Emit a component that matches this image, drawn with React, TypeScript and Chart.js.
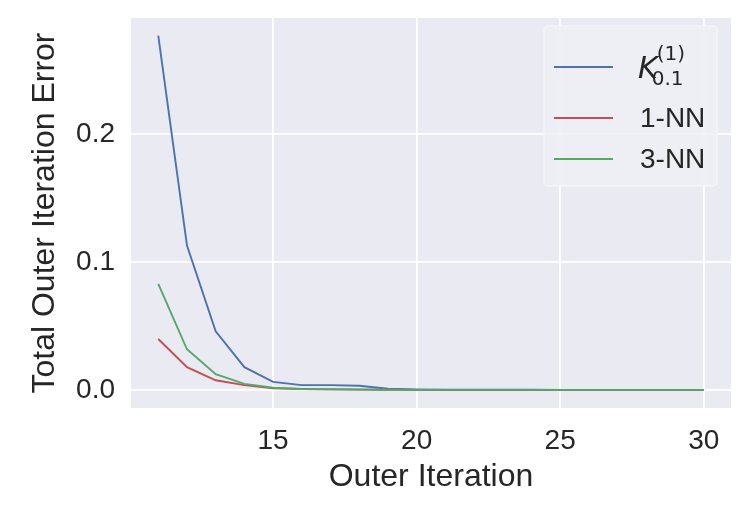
import React, { useEffect, useRef } from "react";
import { Chart, registerables } from "chart.js";

Chart.register(...registerables);

const iterations = [11, 12, 13, 14, 15, 16, 17, 18, 19, 20, 21, 22, 23, 24, 25, 26, 27, 28, 29, 30];
const kValues = [0.2768, 0.113, 0.046, 0.018, 0.0065, 0.004, 0.004, 0.0035, 0.0012, 0.0006, 0.0004, 0.0004, 0.0004, 0.0004, 0.0003, 0.0003, 0.0003, 0.0003, 0.0003, 0.0003];
const nn1Values = [0.040, 0.018, 0.0078, 0.004, 0.0015, 0.001, 0.0007, 0.0005, 0.0004, 0.0003, 0.0003, 0.0003, 0.0003, 0.0003, 0.0003, 0.0003, 0.0003, 0.0003, 0.0003, 0.0003];
const nn3Values = [0.083, 0.032, 0.0125, 0.005, 0.002, 0.001, 0.0008, 0.0006, 0.0004, 0.0003, 0.0003, 0.0003, 0.0003, 0.0003, 0.0003, 0.0003, 0.0003, 0.0003, 0.0003, 0.0003];
const xTicks = [15, 20, 25, 30];
const yTicks = [0.0, 0.1, 0.2];
const seriesNames = ["K", "1-NN", "3-NN"];
const kSub = "0.1";
const kSup = "(1)";
const xTitle = "Outer Iteration";
const yTitle = "Total Outer Iteration Error";

const COLORS = ["#4c72b0", "#c44e52", "#55a868"];
const TEXT = "#262626";
const FONT = "'Liberation Sans', Arial, sans-serif";

const bgPlugin = {
  id: "bgPlugin",
  beforeDraw(chart: any) {
    const { ctx, chartArea } = chart;
    ctx.save();
    ctx.fillStyle = "#eaeaf2";
    ctx.fillRect(chartArea.left, chartArea.top, chartArea.right - chartArea.left, chartArea.bottom - chartArea.top);
    ctx.restore();
  },
};

const legendPlugin = {
  id: "mplLegend",
  afterDraw(chart: any) {
    const { ctx, chartArea } = chart;
    const x0 = chartArea.right - 187;
    const y0 = chartArea.top + 8;
    const w = 173;
    const h = 160;
    ctx.save();
    ctx.beginPath();
    const r = 4;
    ctx.moveTo(x0 + r, y0);
    ctx.arcTo(x0 + w, y0, x0 + w, y0 + h, r);
    ctx.arcTo(x0 + w, y0 + h, x0, y0 + h, r);
    ctx.arcTo(x0, y0 + h, x0, y0, r);
    ctx.arcTo(x0, y0, x0 + w, y0, r);
    ctx.closePath();
    ctx.fillStyle = "rgba(238,239,245,0.9)";
    ctx.fill();
    ctx.strokeStyle = "#f4f4f8";
    ctx.lineWidth = 1.5;
    ctx.stroke();

    const rowY = [y0 + 41, y0 + 92, y0 + 133];
    seriesNames.forEach((name, i) => {
      const y = rowY[i];
      ctx.strokeStyle = COLORS[i];
      ctx.lineWidth = 1.8;
      ctx.beginPath();
      ctx.moveTo(x0 + 10, y);
      ctx.lineTo(x0 + 69, y);
      ctx.stroke();
      ctx.fillStyle = TEXT;
      if (i === 0) {
        ctx.textBaseline = "alphabetic";
        ctx.textAlign = "left";
        ctx.font = "oblique 30px 'DejaVu Sans', sans-serif";
        const kx = x0 + 94;
        ctx.fillText(name, kx, y + 11);
        const kw = ctx.measureText(name).width;
        ctx.font = "20px 'DejaVu Sans', sans-serif";
        ctx.fillText(kSub, kx + kw - 6, y + 18);
        ctx.fillText(kSup, kx + kw - 1, y - 7);
      } else {
        ctx.textBaseline = "middle";
        ctx.textAlign = "left";
        ctx.font = "28px " + FONT;
        ctx.fillText(name, x0 + 96, y + 1);
      }
    });
    ctx.restore();
  },
};

export default function App() {
  const ref = useRef<HTMLCanvasElement | null>(null);
  useEffect(() => {
    if (!ref.current) return;
    const allValues = [...kValues, ...nn1Values, ...nn3Values];
    const dMax = Math.max(...allValues);
    const dMin = 0;
    const ym = (dMax - dMin) * 0.05;
    const xm = (iterations[iterations.length - 1] - iterations[0]) * 0.05;
    const mk = (vals: number[]) => iterations.map((x, i) => ({ x, y: vals[i] }));
    const chart = new Chart(ref.current, {
      type: "line",
      data: {
        datasets: [
          { label: seriesNames[0], data: mk(kValues), borderColor: COLORS[0], borderWidth: 1.9, pointRadius: 0, order: 2 },
          { label: seriesNames[1], data: mk(nn1Values), borderColor: COLORS[1], borderWidth: 1.9, pointRadius: 0, order: 1 },
          { label: seriesNames[2], data: mk(nn3Values), borderColor: COLORS[2], borderWidth: 1.9, pointRadius: 0, order: 0 },
        ],
      },
      options: {
        animation: false,
        responsive: false,
        devicePixelRatio: 1,
        layout: { padding: { top: 18, right: 23, left: 0, bottom: 0 } },
        plugins: { legend: { display: false }, tooltip: { enabled: false } },
        scales: {
          x: {
            type: "linear",
            min: iterations[0] - xm,
            max: iterations[iterations.length - 1] + xm,
            afterBuildTicks: (s: any) => { s.ticks = xTicks.map((v) => ({ value: v })); },
            afterFit: (s: any) => { s.height = 102; s.paddingLeft = 0; s.paddingRight = 0; },
            grid: { color: "#ffffff", lineWidth: 1.8, drawTicks: false },
            border: { display: false },
            ticks: { font: { size: 28, family: FONT }, color: TEXT, padding: 16, maxRotation: 0, callback: (v: any) => String(v) },
            title: { display: true, text: xTitle, font: { size: 32, family: FONT }, color: TEXT, padding: { top: 0, bottom: 14 } },
          },
          y: {
            type: "linear",
            min: dMin - ym,
            max: dMax + ym,
            afterBuildTicks: (s: any) => { s.ticks = yTicks.map((v) => ({ value: v })); },
            afterFit: (s: any) => { s.width = 131; s.paddingTop = 0; s.paddingBottom = 0; },
            grid: { color: "#ffffff", lineWidth: 1.8, drawTicks: false },
            border: { display: false },
            ticks: { font: { size: 28, family: FONT }, color: TEXT, padding: 16, callback: (v: any) => Number(v).toFixed(1) },
            title: { display: true, text: yTitle, font: { size: 32, family: FONT }, color: TEXT, padding: { top: 26, bottom: 0 } },
          },
        },
      },
      plugins: [bgPlugin, legendPlugin],
    } as any);
    return () => chart.destroy();
  }, []);
  return (
    <div style={{ position: "fixed", left: 0, top: 0, width: 754, height: 510, background: "#ffffff" }}>
      <canvas ref={ref} width={754} height={510} />
    </div>
  );
}
